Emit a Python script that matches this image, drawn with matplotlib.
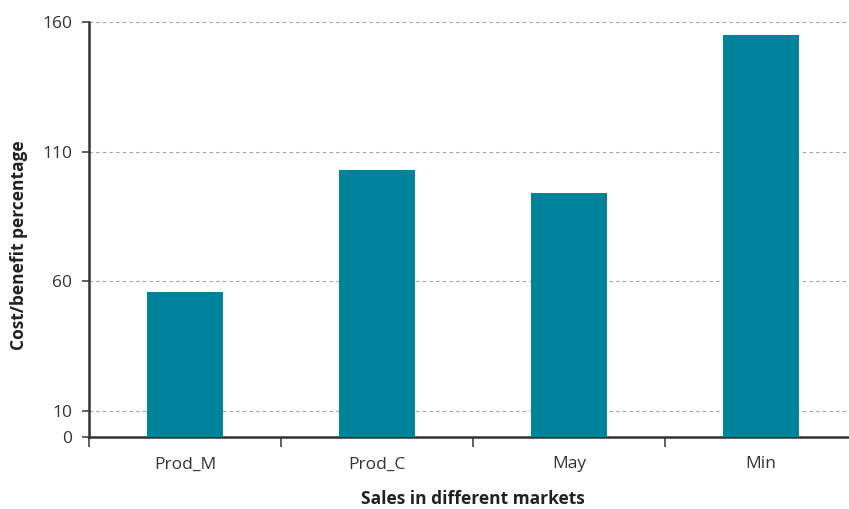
import matplotlib
matplotlib.use("Agg")
import matplotlib.pyplot as plt
import numpy as np

categories = ["Prod_M", "Prod_C", "May", "Min"]
values = [56, 103, 94, 155]
yticks = [0, 10, 60, 110, 160]

plt.rcParams['font.family'] = ['Open Sans', 'DejaVu Sans']

fig = plt.figure(figsize=(8.49, 5.09), dpi=100)
W, H = 849, 509
ax = fig.add_axes([89 / W, (H - 437) / H, (857 - 89) / W, (437 - 22) / H])

x = np.arange(len(categories))
ax.bar(x, values, width=0.4, color="#00829A", zorder=3)

ax.set_xlim(-0.5, len(categories) - 0.5)
ax.set_ylim(0, 160)
ax.set_yticks(yticks)
ax.set_yticklabels([str(t) for t in yticks], fontsize=12.5, color="#333333")
ax.set_xticks(x)
ax.set_xticklabels(categories, fontsize=12.5, color="#333333")
ax.tick_params(axis='x', which='major', length=0, pad=14)
ax.set_xticks(np.arange(-0.5, len(categories), 1.0), minor=True)
ax.tick_params(axis='x', which='minor', length=7, width=1.2, color="#444444", direction='out')
ax.tick_params(axis='y', length=5, width=1.2, color="#444444", direction='out', pad=7)

for t in yticks[1:]:
    ax.axhline(t, color="#a0a0a0", linestyle=(0, (3, 3)), linewidth=0.8, zorder=1)

for s in ['top', 'right']:
    ax.spines[s].set_visible(False)
for s in ['left', 'bottom']:
    ax.spines[s].set_color("#333333")
    ax.spines[s].set_linewidth(1.8)

ax.set_xlabel("Sales in different markets", fontsize=12.5, fontweight='bold', color="#222222", labelpad=13)
ax.set_ylabel("Cost/benefit percentage", fontsize=12.5, fontweight='bold', color="#222222", labelpad=10, y=0.463)

fig.savefig("out.png", dpi=100)
